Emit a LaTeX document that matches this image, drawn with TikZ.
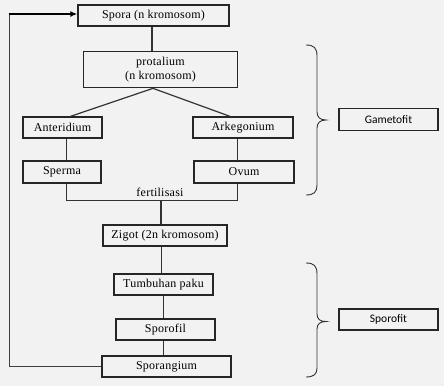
\documentclass[tikz,border=0pt]{standalone}
\usepackage{fontspec}
\setmainfont{Liberation Serif}[LetterSpace=2]
\newfontfamily\calib{Carlito}
\usetikzlibrary{arrows.meta}
\begin{document}
\begin{tikzpicture}[x=1pt,y=-1pt,
  box/.style={draw=black!85,line width=1.3pt,rectangle,inner sep=0pt,align=center,font=\fontsize{12}{13.5}\selectfont},
  conn/.style={draw=black!80,line width=1.2pt},
  brc/.style={draw=black!80,line width=0.9pt}]
\fill[black!5] (0,0) rectangle (444,386);
\useasboundingbox (0,0) rectangle (444,386);
\node[box,minimum width=151,minimum height=21] (spora) at (153.5,15.5) {Spora (n kromosom)};
\node[box,minimum width=154,minimum height=36] (prot) at (160.5,69.7) {protalium\\(n kromosom)};
\node[box,minimum width=79,minimum height=21] (ant) at (62.5,127.5) {Anteridium};
\node[box,minimum width=100,minimum height=21] (ark) at (243,127.5) {Arkegonium};
\node[box,minimum width=78,minimum height=22] (sperma) at (62,172) {Sperma};
\node[box,minimum width=100,minimum height=22] (ovum) at (244,172) {Ovum};
\node[font=\fontsize{12}{13.5}\selectfont] (fert) at (160,192) {fertilisasi};
\node[box,minimum width=124,minimum height=21] (zigot) at (165,235.5) {Zigot (2n kromosom)};
\node[box,minimum width=99,minimum height=21] (tumb) at (163.5,284.5) {Tumbuhan paku};
\node[box,minimum width=99,minimum height=21] (sporofil) at (165.5,329.5) {Sporofil};
\node[box,minimum width=129,minimum height=21] (spg) at (166.5,366.5) {Sporangium};
\node[box,minimum width=99,minimum height=22,font=\calib\fontsize{11.5}{13}\selectfont] (gam) at (388.5,119.5) {Gametofit};
\node[box,minimum width=99,minimum height=21,font=\calib\fontsize{11.5}{13}\selectfont] (spt) at (388.5,319.5) {Sporofit};
% connectors
\draw[conn] ([xshift=-1.5]spora.south) -- ([xshift=-8.5]prot.north);
\coordinate (pb) at ([xshift=-7.5]prot.south);
\draw[conn] (pb) -- ([xshift=8]ant.north);
\draw[conn] (pb) -- ([xshift=-13]ark.north);
\draw[conn] ([xshift=4]ant.south) -- ([xshift=4.5]sperma.north);
\draw[conn] ([xshift=-5.3]ark.south) -- ([xshift=-6.3]ovum.north);
\coordinate (fl) at (66.5,200.7);
\coordinate (fr) at (237.7,200.7);
\draw[conn] ([xshift=4.5]sperma.south) -- (fl) -- (fr) -- ([xshift=-6.3]ovum.south);
\coordinate (fm) at (161,200.7);
\draw[conn] (fm) -- ([xshift=-4]zigot.north);
\draw[conn] ([xshift=-3.3]zigot.south) -- ([xshift=-1.8]tumb.north);
\draw[conn] ([xshift=-0.2]tumb.south) -- ([xshift=-2.2]sporofil.north);
\draw[conn] ([xshift=-2.2]sporofil.south) -- ([xshift=-3.2]spg.north);
\coordinate (lt) at (9,14);
\draw[draw=black!75,line width=0.9pt] (spg.west) -- (spg.west -| lt) -- (lt);
\draw[line width=1.8pt,-{Latex[length=7pt,width=6pt]}] (8.5,14) -- (lt -| spora.west);
% braces
\draw[brc] (306,45) .. controls (314,45) and (317,48) .. (317,56) -- (317,112)
  .. controls (317,117) and (320,120) .. (326,120)
  .. controls (320,120) and (317,123) .. (317,128) -- (317,185)
  .. controls (317,192) and (314,195) .. (306,195);
\draw[brc] (306,263) .. controls (314,263) and (317,266) .. (317,274) -- (317,314)
  .. controls (317,319) and (320,321.5) .. (326,321.5)
  .. controls (320,321.5) and (317,324) .. (317,329) -- (317,368)
  .. controls (317,374) and (314,377) .. (306,377);
\end{tikzpicture}
\end{document}
